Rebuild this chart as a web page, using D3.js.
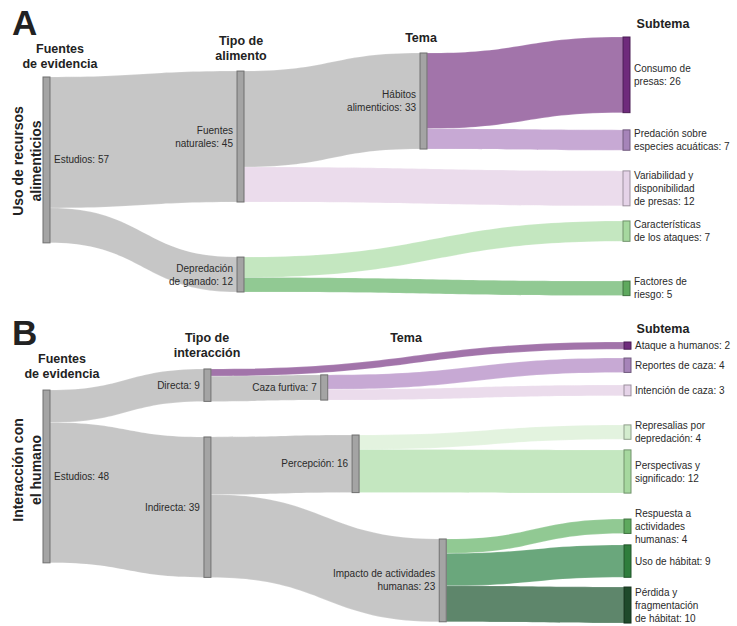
<!DOCTYPE html>
<html lang="es">
<head>
<meta charset="UTF-8">
<title>Sankey - fuentes de evidencia</title>
<script src="https://d3js.org/d3.v7.min.js"></script>
<style>
  body { margin: 0; background: #fff; font-family: "Liberation Sans", Arial, sans-serif; }
  svg text { fill: #222; }
  .hdr { font-weight: bold; font-size: 12.5px; fill: #222; }
  .lbl { font-size: 10px; fill: #2a2a2a; }
</style>
</head>
<body>
<div id="chart"></div>
<script>
// ---- Panel A: Uso de recursos alimenticios ----
const nodesA = [
  ["Estudios"], ["Fuentes", "naturales"], ["Depredación", "de ganado"],
  ["Hábitos", "alimenticios"],
  ["Consumo de", "presas"], ["Predación sobre", "especies acuáticas"],
  ["Variabilidad y", "disponibilidad", "de presas"],
  ["Características", "de los ataques"], ["Factores de", "riesgo"]
];
const sourcesA = [0, 0, 1, 1, 3, 3, 2, 2];
const targetsA = [1, 2, 3, 6, 4, 5, 7, 8];
const valuesA  = [45, 12, 33, 12, 26, 7, 7, 5];

// ---- Panel B: Interacción con el humano ----
const nodesB = [
  ["Estudios"], ["Directa"], ["Indirecta"],
  ["Caza furtiva"], ["Percepción"], ["Impacto de actividades", "humanas"],
  ["Ataque a humanos"], ["Reportes de caza"], ["Intención de caza"],
  ["Represalias por", "depredación"], ["Perspectivas y", "significado"],
  ["Respuesta a", "actividades", "humanas"], ["Uso de hábitat"],
  ["Pérdida y", "fragmentación", "de hábitat"]
];
const sourcesB = [0, 0, 1, 1, 3, 3, 2, 2, 4, 4, 5, 5, 5];
const targetsB = [1, 2, 6, 3, 7, 8, 4, 5, 9, 10, 11, 12, 13];
const valuesB  = [9, 39, 2, 7, 4, 3, 16, 23, 4, 12, 4, 9, 10];

// ---- layout (node arrangement, fractions of the panel) ----
const layoutA = {
  x: [0, 0.3345, 0.3345, 0.65, 1, 1, 1, 1, 1],
  y: [0.155, 0.132, 0.853, 0.062, 0, 0.360, 0.519, 0.713, 0.946],
  x0: 43, x1: 623, y0: 37, y1: 295, pxPerUnit: 2.91
};
const layoutB = {
  x: [0, 0.277, 0.277, 0.478, 0.532, 0.682, 1, 1, 1, 1, 1, 1, 1, 1],
  y: [0.171, 0.096, 0.338, 0.117, 0.331, 0.701, 0, 0.057, 0.153, 0.295, 0.384, 0.630, 0.722, 0.872],
  x0: 43, x1: 624, y0: 342, y1: 623, pxPerUnit: 3.6
};

// ---- styles ----
const GRAY_LINK = "#c6c6c6", GRAY_NODE = "#a4a4a4";
const linkColorsA = [GRAY_LINK, GRAY_LINK, GRAY_LINK, "#ebdcec", "#a274aa", "#c7a9d4", "#c4e7c0", "#91c993"];
const nodeColorsA = [GRAY_NODE, GRAY_NODE, GRAY_NODE, GRAY_NODE, "#6f2b7c", "#a684b9", "#e5d3e8", "#a6d89f", "#5ea95e"];
const linkColorsB = [GRAY_LINK, GRAY_LINK, "#a274aa", GRAY_LINK, "#c7a9d4", "#ebdcec", GRAY_LINK, GRAY_LINK,
                     "#e3f3df", "#c4e7c0", "#91c993", "#6aa77c", "#5e866b"];
const nodeColorsB = [GRAY_NODE, GRAY_NODE, GRAY_NODE, GRAY_NODE, GRAY_NODE, GRAY_NODE,
                     "#6f2b7c", "#a684b9", "#e5d3e8", "#d3ecce", "#a6d89f", "#5ea95e", "#2f7d3c", "#1f4a2b"];

const W = 737, H = 626, NW = 7, LH = 13;

const svg = d3.select("#chart").append("svg")
  .attr("width", W).attr("height", H);

function drawPanel(nodes, sources, targets, values, lay, linkColors, nodeColors) {
  const g = svg.append("g");
  const xs = d3.scaleLinear().domain([0, 1]).range([lay.x0, lay.x1]);
  const ys = d3.scaleLinear().domain([0, 1]).range([lay.y0, lay.y1]);
  const hs = d3.scaleLinear().domain([0, 1]).range([0, lay.pxPerUnit]);

  // node values = max(in, out)
  const inSum = nodes.map(() => 0), outSum = nodes.map(() => 0);
  values.forEach((v, i) => { outSum[sources[i]] += v; inSum[targets[i]] += v; });
  const nd = nodes.map((lines, i) => {
    const value = Math.max(inSum[i], outSum[i]);
    const x = xs(lay.x[i]), y = ys(lay.y[i]);
    return { lines, value, x, y, h: hs(value), outOff: 0, inOff: 0, i };
  });

  // links
  const links = values.map((v, i) => {
    const s = nd[sources[i]], t = nd[targets[i]];
    const w = hs(v);
    const sy = s.y + s.outOff; s.outOff += w;
    const ty = t.y + t.inOff; t.inOff += w;
    return { sx: s.x + NW, tx: t.x, sy, ty, w, color: linkColors[i] };
  });

  const linkPath = d => {
    const p = d3.path();
    const xm = (d.sx + d.tx) / 2;
    p.moveTo(d.sx, d.sy);
    p.bezierCurveTo(xm, d.sy, xm, d.ty, d.tx, d.ty);
    p.lineTo(d.tx, d.ty + d.w);
    p.bezierCurveTo(xm, d.ty + d.w, xm, d.sy + d.w, d.sx, d.sy + d.w);
    p.closePath();
    return p.toString();
  };

  g.append("g").selectAll("path").data(links).join("path")
    .attr("d", linkPath)
    .attr("fill", d => d.color)
    .attr("stroke", "#fff").attr("stroke-width", 0.3).attr("stroke-opacity", 0.6);

  g.append("g").selectAll("rect").data(nd).join("rect")
    .attr("x", d => d.x).attr("y", d => d.y)
    .attr("width", NW).attr("height", d => d.h)
    .attr("fill", d => nodeColors[d.i])
    .attr("stroke", d => d3.color(nodeColors[d.i]).darker(1.1))
    .attr("stroke-width", 1);

  // labels: first column and last column to the right, others to the left
  const outer = d => lay.x[d.i] === 0 || lay.x[d.i] === 1;
  const lbl = g.append("g").selectAll("text").data(nd).join("text")
    .attr("class", "lbl")
    .attr("text-anchor", d => outer(d) ? "start" : "end")
    .attr("y", d => d.y + d.h / 2 - (d.lines.length - 1) * LH / 2);
  lbl.selectAll("tspan").data(d => d.lines.map((l, k) => ({
      t: k === d.lines.length - 1 ? l + ": " + d.value : l, k,
      x: outer(d) ? d.x + NW + 4 : d.x - 4 })))
    .join("tspan")
    .attr("x", d => d.x)
    .attr("dy", d => d.k === 0 ? "0.35em" : LH)
    .text(d => d.t);
}

drawPanel(nodesA, sourcesA, targetsA, valuesA, layoutA, linkColorsA, nodeColorsA);
drawPanel(nodesB, sourcesB, targetsB, valuesB, layoutB, linkColorsB, nodeColorsB);

// ---- headers ----
function header(lines, x, y) {
  const t = svg.append("text").attr("class", "hdr").attr("text-anchor", "middle");
  lines.forEach((l, k) => t.append("tspan").attr("x", x).attr("y", y + k * 14.5).text(l));
}
header(["Fuentes", "de evidencia"], 60, 53);
header(["Tipo de", "alimento"], 241, 45);
header(["Tema"], 421, 42);
header(["Subtema"], 663, 28);
header(["Fuentes", "de evidencia"], 62, 363);
header(["Tipo de", "interacción"], 207, 342);
header(["Tema"], 406, 342);
header(["Subtema"], 663, 333);

// panel letters
svg.append("text").attr("x", 12).attr("y", 35).style("font-size", "35px").style("font-weight", "bold").attr("fill", "#111").text("A");
svg.append("text").attr("x", 12).attr("y", 345).style("font-size", "35px").style("font-weight", "bold").attr("fill", "#111").text("B");

// vertical titles
function vtitle(lines, cy) {
  const t = svg.append("text").attr("text-anchor", "middle")
    .attr("transform", `translate(18,${cy}) rotate(-90)`)
    .style("font-size", "14px").style("font-weight", "bold").attr("fill", "#111");
  lines.forEach((l, k) => t.append("tspan").attr("x", 0).attr("y", 5 + k * 17.5).text(l));
}
vtitle(["Uso de recursos", "alimenticios"], 161);
vtitle(["Interacción con", "el humano"], 470);
</script>
</body>
</html>
